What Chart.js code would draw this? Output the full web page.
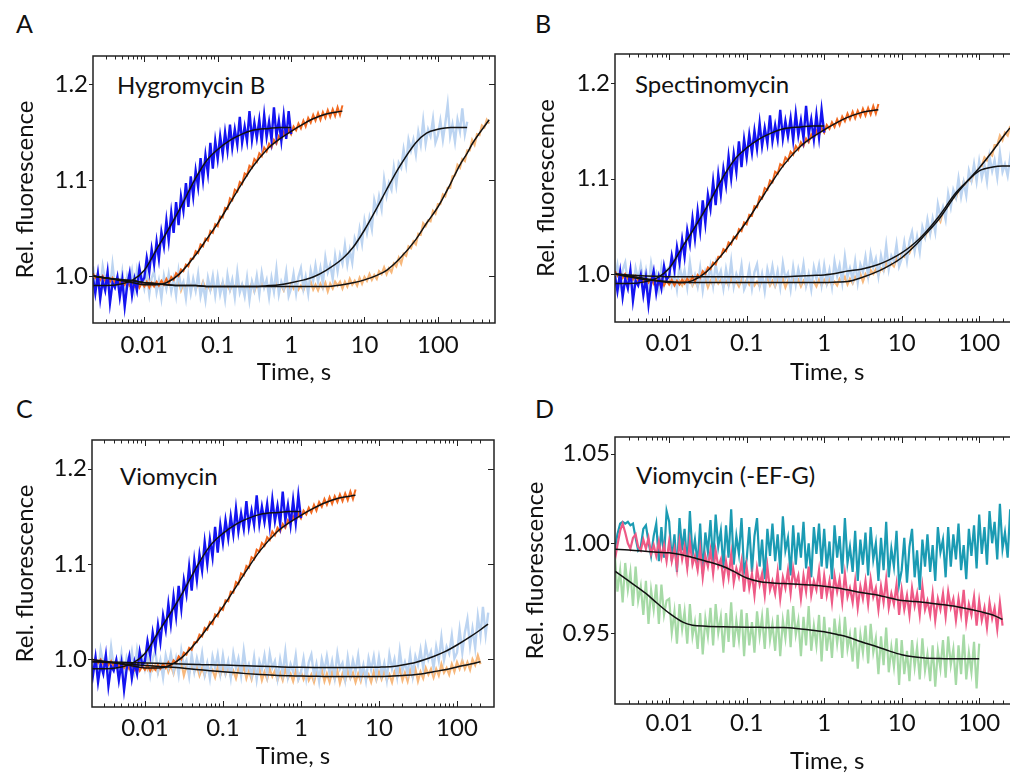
<!DOCTYPE html>
<html>
<head>
<meta charset="utf-8">
<script src="https://cdn.jsdelivr.net/npm/chart.js@4.4.1/dist/chart.umd.min.js"></script>
<style>
  html, body { margin: 0; padding: 0; overflow: hidden; background: #fff; }
  body { position: relative; width: 1010px; height: 776px; font-family: Lato, "Open Sans", sans-serif; color: #111; }
  canvas { position: absolute; }
  .tag { position: absolute; font-size: 24px; line-height: 1; white-space: nowrap; }
  .letter { font-size: 25px; }
</style>
</head>
<body>
<div class="tag letter" style="left:16px;top:11px">A</div>
<div class="tag letter" style="left:535px;top:11px">B</div>
<div class="tag letter" style="left:16px;top:396px">C</div>
<div class="tag letter" style="left:535px;top:396px">D</div>
<div class="tag" style="left:117px;top:73px">Hygromycin B</div>
<div class="tag" style="left:635px;top:72px">Spectinomycin</div>
<div class="tag" style="left:120px;top:464px">Viomycin</div>
<div class="tag" style="left:636px;top:463px">Viomycin (-EF-G)</div>

<canvas id="chartA" width="510" height="390" style="left:0;top:0"></canvas>
<canvas id="chartB" width="545" height="390" style="left:510px;top:0"></canvas>
<canvas id="chartC" width="510" height="386" style="left:0;top:390px"></canvas>
<canvas id="chartD" width="545" height="386" style="left:510px;top:390px"></canvas>

<script>
// Sampling times of the recorded traces (s)
const tGrid = [
  0.002,0.00215,0.00233,0.00251,0.00271,0.00293,0.00316,0.00341,0.00369,0.00398,0.0043,0.00464,0.00501,0.00541,0.00584,0.00631,0.00681,0.00736,0.00794,0.00858,0.00926,
  0.01,0.0108,0.0117,0.0126,0.0136,0.0147,0.0158,0.0171,0.0185,0.02,0.0215,0.0233,0.0251,0.0271,0.0293,0.0316,0.0341,0.0369,0.0398,0.043,0.0464,0.0501,0.0541,0.0584,0.0631,0.0681,0.0736,0.0794,0.0858,0.0926,
  0.1,0.108,0.117,0.126,0.136,0.147,0.158,0.171,0.185,0.2,0.215,0.233,0.251,0.271,0.293,0.316,0.341,0.369,0.398,0.43,0.464,0.501,0.541,0.584,0.631,0.681,0.736,0.794,0.858,0.926,
  1,1.08,1.17,1.26,1.36,1.47,1.58,1.71,1.85,2,2.15,2.33,2.51,2.71,2.93,3.16,3.41,3.69,3.98,4.3,4.64,5.01,5.41,5.84,6.31,6.81,7.36,7.94,8.58,9.26,
  10,10.8,11.7,12.6,13.6,14.7,15.8,17.1,18.5,20,21.5,23.3,25.1,27.1,29.3,31.6,34.1,36.9,39.8,43,46.4,50.1,54.1,58.4,63.1,68.1,73.6,79.4,85.8,92.6,
  100,108,117,126,136,147,158,171,185,200,215,233,251,271,293,316,341,369,398,430,464,501,541,584
];

// Times of the fitted curves (s)
const fitT = [0.002,0.003,0.005,0.007,0.01,0.015,0.02,0.03,0.05,0.07,0.1,0.15,0.2,0.3,0.5,0.7,1,1.5,2,3,5,7,10,15,20,30,50,70,100,150,200,250,300,500];

// Axis ticks
const xTickVals = [0.01, 0.1, 1, 10, 100];
const xTickLabels = ['0.01', '0.1', '1', '10', '100'];
const yTicksABC = [1.0, 1.1, 1.2];
const yLabelsABC = ['1.0', '1.1', '1.2'];
const yTicksD = [0.95, 1.0, 1.05];
const yLabelsD = ['0.95', '1.00', '1.05'];

// Traces without antibiotic (same in A, B, C)
const darkBlue = [
  0.998,0.982,1.002,0.976,0.995,0.985,1.004,0.972,0.993,0.988,0.999,0.978,0.996,0.968,0.990,1.003,0.980,0.997,0.985,1.008,0.994,
  0.998,1.019,1.004,1.028,1.012,1.036,1.018,1.046,1.031,1.058,1.037,1.066,1.045,1.077,1.053,1.083,1.068,1.097,1.072,1.104,1.083,1.110,1.093,1.123,1.100,1.126,1.107,1.139,1.112,1.141,
  1.122,1.146,1.127,1.150,1.131,1.158,1.134,1.153,1.137,1.166,1.139,1.156,1.141,1.172,1.142,1.160,1.144,1.163,1.140,1.168,1.145,1.161,1.142,1.176,1.146,1.162,1.141,1.167,1.143,1.172,1.148
];
const darkOrange = [
  1.003,0.998,1.001,0.996,1.000,0.995,0.999,0.994,0.998,0.993,0.997,0.992,0.996,0.991,0.995,0.990,0.994,0.989,0.994,0.988,0.993,
  0.989,0.994,0.988,0.993,0.989,0.994,0.990,0.995,0.991,0.997,0.992,0.999,0.996,1.003,1.000,1.007,1.005,1.012,1.010,1.018,1.018,
  1.026,1.024,1.033,1.031,1.039,1.037,1.047,1.045,1.054,1.052,1.062,1.061,1.071,1.070,1.081,1.079,1.090,1.088,1.098,1.096,1.107,1.105,1.115,1.113,1.122,1.119,1.128,1.125,1.134,1.130,1.138,1.134,1.142,1.138,1.146,1.142,1.150,1.145,1.153,1.148,
  1.156,1.152,1.159,1.154,1.162,1.156,1.165,1.160,1.168,1.162,1.170,1.163,1.171,1.165,1.173,1.166,1.174,1.167,1.176,1.168,1.178
];
const blueFit = [0.990,0.990,0.992,0.996,1.006,1.029,1.045,1.069,1.102,1.120,1.132,1.142,1.147,1.152,1.154,1.155,1.155];
const orangeFit = [1.000,0.998,0.995,0.993,0.991,0.991,0.993,1.002,1.022,1.038,1.055,1.077,1.093,1.114,1.134,1.143,1.151,1.159,1.164,1.169,1.172];

// A: Hygromycin B
const lightBlueA = [
  1.010,0.992,1.003,0.986,1.010,0.995,1.004,0.986,1.012,0.990,0.998,0.986,1.004,0.981,1.000,0.990,1.005,0.985,1.006,0.991,0.999,
  0.987,1.002,0.981,0.998,1.005,0.983,0.995,0.977,1.000,0.987,1.002,0.984,0.997,0.980,1.005,0.988,0.994,0.977,1.000,0.982,0.997,0.985,1.002,0.979,0.991,0.975,0.998,0.986,1.000,0.980,
  0.999,0.981,0.993,0.976,1.001,0.986,0.996,0.978,1.004,0.983,0.991,0.979,0.998,0.975,0.994,0.985,1.000,0.981,1.003,0.988,0.996,0.978,0.998,0.984,1.007,0.981,0.994,0.987,1.004,0.979,
  0.987,1.002,0.982,0.999,1.008,0.987,0.999,0.982,1.006,0.995,1.011,0.994,1.008,0.992,1.019,1.004,1.012,0.997,1.021,1.005,1.022,1.013,1.032,1.012,1.027,1.014,1.039,1.031,1.049,1.034,
  1.058,1.045,1.061,1.049,1.079,1.068,1.083,1.070,1.101,1.084,1.097,1.090,1.113,1.095,1.118,1.113,1.132,1.116,1.142,1.131,1.142,1.127,1.150,1.137,1.162,1.138,1.153,1.146,1.164,1.139,
  1.147,1.162,1.142,1.159,1.179,1.146,1.158,1.140,1.163,1.151,1.175,1.148,1.161
];
const lightOrangeA = [
  1.003,0.998,1.003,0.996,0.999,0.994,1.000,0.996,1.002,0.993,0.998,0.992,0.998,0.993,0.999,0.989,0.996,0.991,0.997,0.992,0.996,
  0.996,0.991,0.997,0.990,0.993,0.988,0.995,0.991,0.997,0.988,0.993,0.987,0.994,0.989,0.995,0.985,0.992,0.987,0.994,0.989,0.993,0.986,0.992,0.986,0.994,0.987,0.990,0.985,0.992,0.986,
  0.992,0.987,0.993,0.986,0.990,0.985,0.992,0.988,0.994,0.986,0.991,0.985,0.992,0.987,0.993,0.984,0.991,0.986,0.993,0.988,0.992,0.985,0.991,0.986,0.994,0.987,0.990,0.985,0.992,0.986,
  0.992,0.987,0.993,0.986,0.990,0.985,0.992,0.988,0.994,0.986,0.991,0.985,0.992,0.987,0.993,
  0.984,0.992,0.987,0.994,0.990,0.994,0.987,0.994,0.989,0.997,0.991,0.995,0.990,0.998,0.992,
  0.999,0.995,1.002,0.996,1.001,0.997,1.005,1.002,1.009,1.002,1.008,1.004,1.013,1.010,1.019,1.013,1.023,1.021,1.031,1.029,1.036,1.033,1.044,1.043,1.055,1.052,1.058,1.057,1.068,1.065,
  1.075,1.075,1.085,1.083,1.092,1.092,1.104,1.105,1.116,1.113,1.122,1.120,1.131,1.131,1.142,1.137,1.148,1.147,1.157,1.155,1.163,1.159
];
const lightBlueFitA = [1.000,0.998,0.996,0.995,0.993,0.992,0.991,0.990,0.990,0.989,0.989,0.989,0.989,0.989,0.990,0.991,0.993,0.996,0.999,1.006,1.018,1.030,1.048,1.072,1.090,1.114,1.139,1.149,1.153,1.155,1.155,1.155];
const lightOrangeFitA = [1.000,0.998,0.996,0.995,0.993,0.992,0.991,0.990,0.990,0.989,0.989,0.989,0.989,0.989,0.989,0.989,0.989,0.989,0.989,0.989,0.991,0.993,0.996,1.001,1.006,1.018,1.038,1.055,1.072,1.097,1.116,1.128,1.139,1.163];

// B: Spectinomycin
const lightBlueB = [
  0.994,1.009,0.988,1.004,1.012,0.990,1.002,0.984,1.006,0.994,1.009,0.991,1.004,0.987,1.011,0.995,1.001,0.984,1.007,0.989,1.004,
  1.007,0.989,1.001,0.984,1.009,0.994,1.004,0.986,1.012,0.991,0.999,0.987,1.006,0.983,1.002,0.993,1.008,0.988,1.010,0.995,1.003,0.985,1.005,0.990,1.013,0.987,1.000,0.992,1.009,0.984,
  0.991,1.006,0.985,1.002,1.010,0.988,1.000,0.982,1.005,0.993,1.008,0.990,1.003,0.986,1.011,0.995,1.001,0.984,1.007,0.989,
  1.005,0.993,1.010,0.988,1.000,0.984,1.007,0.995,1.009,0.989,
  1.009,0.991,1.004,0.987,1.013,0.998,1.009,0.991,1.018,0.997,1.006,0.994,1.013,0.991,1.010,1.002,1.018,0.998,1.021,1.007,1.016,0.998,1.019,1.006,1.030,1.005,1.019,1.013,1.031,1.008,
  1.016,1.033,1.014,1.034,1.044,1.024,1.039,1.023,1.049,1.039,1.057,1.042,1.058,1.044,1.073,1.060,1.070,1.057,1.084,1.070,1.088,1.080,1.100,1.081,1.096,1.082,1.108,1.098,1.115,1.097,
  1.118,1.101,1.114,1.097,1.123,1.108,1.119,1.101,1.127,1.107,1.115,1.103,1.122,1.099,1.118,1.109,1.124,1.104,1.126,1.111,1.119,1.101,1.121,1.106
];
const lightOrangeB = [
  1.003,0.998,1.003,0.996,0.999,0.994,1.001,0.996,1.002,0.994,0.998,0.992,0.999,0.993,0.999,0.990,0.996,0.991,0.998,0.992,0.996,
  0.996,0.991,0.996,0.989,0.993,0.988,0.995,0.990,0.996,0.988,0.993,0.987,0.994,0.989,0.995,0.986,0.993,0.988,0.995,0.990,0.994,0.987,0.993,0.988,0.996,0.989,0.992,0.987,0.994,0.988,
  0.994,0.989,0.995,0.988,0.992,0.987,0.994,0.990,0.996,0.988,0.993,0.987,0.994,0.989,0.995,0.986,0.993,0.988,0.995,0.990,0.994,0.987,0.993,0.988,0.996,0.989,0.992,0.987,0.994,0.988,
  0.994,0.989,0.995,0.988,0.992,0.988,0.995,0.991,0.997,0.989,0.995,0.990,0.997,0.993,1.000,0.992,1.000,0.996,1.004,1.000,1.005,0.999,1.006,1.003,1.012,1.007,1.011,1.008,1.016,1.012,
  1.020,1.018,1.026,1.022,1.029,1.026,1.036,1.035,1.043,1.038,1.046,1.043,1.053,1.051,1.060,1.055,1.066,1.065,1.076,1.075,1.082,1.079,1.088,1.086,1.097,1.093,1.099,1.097,1.107,1.105,
  1.114,1.113,1.122,1.119,1.126,1.124,1.135,1.135,1.145,1.140,1.148,1.145,1.155
];
const lightBlueFitB = [1.000,0.999,0.998,0.9975,0.997,0.997,0.997,0.997,0.997,0.997,0.997,0.997,0.997,0.9972,0.998,0.9985,0.999,1.001,1.003,1.005,1.010,1.015,1.022,1.033,1.043,1.060,1.085,1.097,1.108,1.112,1.113,1.113,1.113,1.113];
const lightOrangeFitB = [1.000,0.997,0.994,0.993,0.992,0.991,0.991,0.991,0.991,0.991,0.991,0.991,0.991,0.991,0.991,0.991,0.991,0.9915,0.992,0.996,1.003,1.009,1.017,1.030,1.041,1.057,1.083,1.097,1.111,1.129,1.143,1.153];

// C: Viomycin
const lightBlueC = [
  1.008,0.990,1.002,0.985,1.010,0.995,1.005,0.987,1.013,0.992,1.000,
  0.987,1.006,0.983,1.002,0.993,1.008,0.988,1.010,0.995,1.003,
  0.990,1.005,0.984,1.001,1.009,0.987,0.999,0.981,1.004,0.992,
  1.006,0.988,1.001,0.984,1.009,0.993,0.999,0.982,1.005,0.987,
  1.001,0.989,1.006,0.984,0.996,0.980,1.003,0.991,1.005,0.985,
  1.004,0.986,0.998,0.981,1.006,0.991,1.001,0.983,1.009,0.988,
  0.995,0.983,1.002,0.979,0.998,0.989,1.004,0.984,1.006,0.991,
  0.998,0.980,1.000,0.985,1.008,0.982,0.995,0.987,1.004,0.979,
  0.986,1.001,0.980,0.997,1.005,0.983,0.995,0.977,1.000,0.988,1.003,0.985,0.998,0.981,1.006,0.990,0.996,0.979,1.002,0.984,0.999,0.987,1.004,0.982,0.994,0.978,1.001,0.989,1.003,0.983,
  1.002,0.984,0.996,0.979,1.005,0.990,1.000,0.982,1.009,0.988,0.997,0.985,1.005,0.983,1.003,0.994,1.010,0.991,1.014,1.000,1.008,0.991,1.013,0.999,1.023,0.999,1.013,1.006,1.025,1.001,
  1.007,1.031,1.007,1.028,1.042,1.014,1.032,1.012,1.045,1.025,1.055,1.026,1.049
];
const lightOrangeC = [
  1.001,0.996,1.001,0.994,0.998,0.993,0.999,0.995,1.001,0.993,0.998,0.991,0.998,0.993,0.999,0.990,0.996,0.991,0.998,0.993,0.997,
  0.998,0.990,0.999,0.989,0.994,0.986,0.996,0.990,0.999,0.987,0.994,0.985,0.996,0.988,0.997,0.983,0.993,0.985,0.995,0.987,0.993,0.983,0.991,0.983,0.995,0.985,0.989,0.981,0.992,0.983,
  0.992,0.984,0.993,0.982,0.988,0.980,0.990,0.984,0.993,0.980,0.988,0.979,0.990,0.982,0.991,0.978,0.987,0.979,0.990,0.982,0.988,0.978,0.986,0.978,0.990,0.980,0.985,0.977,0.988,0.979,
  0.987,0.979,0.988,0.978,0.984,0.976,0.986,0.980,0.989,0.977,0.985,0.976,0.987,0.979,0.988,0.975,0.985,0.977,0.988,0.980,0.986,0.976,0.985,0.977,0.989,0.979,0.984,0.976,0.987,0.978,
  0.987,0.979,0.988,0.978,0.984,0.976,0.987,0.981,0.990,0.978,0.986,0.977,0.989,0.981,0.990,0.977,0.987,0.980,0.991,0.984,0.990,0.981,0.990,0.983,0.995,0.986,0.991,0.984,0.995,0.987,
  0.997,0.990,0.999,0.990,0.997,0.989,1.000,0.994,1.004,0.995
];
const lightBlueFitC = [0.9975,0.9972,0.9968,0.9965,0.9962,0.9958,0.9955,0.995,0.9945,0.9942,0.994,0.9935,0.9932,0.9928,0.9922,0.9918,0.9916,0.9915,0.9915,0.9915,0.9915,0.9916,0.9918,0.9925,0.994,0.997,1.003,1.008,1.015,1.024,1.031,1.037];
const lightOrangeFitC = [0.9975,0.997,0.9955,0.9945,0.9935,0.9925,0.992,0.991,0.989,0.988,0.987,0.9858,0.985,0.984,0.983,0.9827,0.9825,0.9822,0.982,0.982,0.982,0.982,0.982,0.9825,0.983,0.984,0.987,0.989,0.992,0.995,0.9975];

// D: Viomycin (-EF-G)
const tealD = [
  0.997,1.005,1.011,1.012,1.011,1.012,1.010,1.011,1.003,0.996,0.998,1.008,1.010,1.001,0.993,1.004,1.011,0.990,1.009,0.992,1.018,
  1.012,0.990,1.005,0.984,1.014,0.996,1.008,0.987,1.018,0.993,1.002,0.988,1.011,0.983,1.006,0.995,1.013,0.989,1.016,0.998,1.007,0.986,1.010,0.992,1.019,0.988,1.004,0.994,1.014,0.984,
  0.991,1.009,0.984,1.004,1.014,0.987,1.002,0.980,1.008,0.993,1.011,0.990,1.005,0.985,1.015,0.996,1.003,0.982,1.010,0.988,1.006,0.992,1.012,0.986,1.000,0.981,1.009,0.994,1.011,0.987,
  1.008,0.986,1.001,0.980,1.010,0.992,1.004,0.983,1.014,0.989,0.998,0.984,1.007,0.979,1.002,
  0.988,1.006,0.982,1.009,0.991,1.000,0.979,1.003,0.985,1.012,0.981,0.997,0.987,1.007,0.977,
  0.985,1.003,0.978,0.998,1.008,0.981,0.996,0.974,1.002,0.987,1.005,0.984,0.999,0.979,1.009,
  0.995,1.002,0.981,1.009,0.987,1.005,0.991,1.011,0.985,0.999,0.980,1.008,0.993,1.010,0.986,
  1.016,0.994,1.009,0.988,1.018,1.000,1.012,0.991,1.022,0.997,1.006,0.992,
  1.019,0.991,1.014,1.003,1.021,0.997,1.024,1.006,1.015,0.994,1.018,1.000
];
const pinkD = [
  0.991,0.999,1.007,1.011,1.006,1.000,0.997,1.003,1.005,0.998,0.996,1.002,0.997,1.003,0.994,0.999,0.993,1.001,0.992,0.999,0.990,
  1.001,0.990,0.997,0.986,1.001,0.991,0.998,0.986,1.001,0.988,0.993,0.985,0.997,0.981,0.993,0.987,0.996,0.983,0.996,0.987,0.991,0.979,0.990,0.981,0.994,0.978,0.986,0.981,0.990,0.973,
  0.987,0.975,0.983,0.971,0.986,0.977,0.983,0.971,0.987,0.974,0.979,0.972,0.984,0.969,0.981,0.975,0.985,0.972,0.986,0.977,0.982,0.969,0.982,0.973,0.987,0.971,0.979,0.974,0.985,0.969,
  0.982,0.971,0.979,0.967,0.982,0.973,0.980,0.967,0.983,0.970,0.975,0.967,0.979,0.964,0.976,0.969,0.979,0.966,0.980,0.970,0.975,0.963,0.976,0.967,0.980,0.964,0.972,0.966,0.977,0.960,
  0.974,0.963,0.971,0.960,0.975,0.965,0.972,0.960,0.976,0.963,0.968,0.960,0.972,0.957,0.969,0.963,0.972,0.959,0.973,0.964,0.969,0.957,0.969,0.960,0.974,0.956,0.966,0.960,0.970,0.954,
  0.968,0.957,0.964,0.953,0.967,0.958,0.964,0.952,0.967,0.954
];
const greenD = [
  0.992,0.973,0.985,0.967,0.989,0.974,0.984,0.965,0.987,0.968,0.976,0.960,0.979,0.955,0.974,0.963,0.977,0.955,0.977,0.960,0.968,
  0.969,0.950,0.962,0.944,0.966,0.952,0.962,0.944,0.966,0.948,0.956,0.941,0.961,0.938,0.958,0.948,0.964,0.943,0.966,0.950,0.959,0.939,0.961,0.945,0.967,0.942,0.957,0.946,0.963,0.937,
  0.961,0.943,0.956,0.939,0.962,0.948,0.959,0.941,0.964,0.946,0.955,0.940,0.960,0.937,0.957,0.947,0.963,0.942,0.965,0.949,0.957,0.937,0.959,0.943,0.965,0.940,0.954,0.943,0.960,0.934,
  0.959,0.940,0.953,0.936,0.958,0.944,0.955,0.936,0.959,0.941,0.949,0.934,0.953,0.930,0.949,0.939,0.954,0.933,0.955,0.939,0.947,0.927,0.948,0.932,0.953,0.928,0.942,0.931,0.947,0.921,
  0.946,0.927,0.940,0.923,0.946,0.931,0.942,0.924,0.947,0.929,0.938,0.923,0.943,0.920,0.940,0.930,0.946,0.925,0.948,0.932,0.941,0.921,0.943,0.927,0.949,0.924,0.939,0.928,0.945,0.919,0.944
];
const pinkFitD = [0.9966,0.9962,0.9955,0.995,0.9947,0.9935,0.992,0.990,0.987,0.984,0.9806,0.9785,0.978,0.9775,0.977,0.9767,0.976,0.975,0.974,0.9725,0.971,0.9695,0.968,0.9675,0.967,0.966,0.9647,0.9635,0.962,0.960,0.9575];
const greenFitD = [0.9844,0.979,0.972,0.9665,0.961,0.956,0.9543,0.9537,0.9534,0.9533,0.9532,0.9531,0.953,0.953,0.9522,0.9515,0.9506,0.949,0.9477,0.945,0.942,0.9398,0.9378,0.9365,0.936,0.9357,0.9355,0.9355,0.9355];

// Colours
const C_BLUE = '#1414f0';
const C_ORANGE = '#f26a21';
const C_LBLUE = '#bcd4f1';
const C_LORANGE = '#f7b87c';
const C_TEAL = '#1b9bb3';
const C_PINK = '#ee5a86';
const C_GREEN = '#a6daa6';

const FONT = { family: 'Lato, "Open Sans", sans-serif', size: 24 };

const pts = (xs, ys) => ys.map((y, i) => ({ x: xs[i], y: y }));

function trace(ys, color, order, width) {
  return { data: pts(tGrid, ys), borderColor: color, borderWidth: width, pointRadius: 0, tension: 0, order: order };
}

function fit(ys) {
  return { data: pts(fitT, ys), borderColor: '#111', borderWidth: 1.5, pointRadius: 0, cubicInterpolationMode: 'monotone', order: 0 };
}

function isDecade(v) {
  const e = Math.log10(v);
  return Math.abs(e - Math.round(e)) < 1e-6;
}

// Box frame with inward ticks on top/bottom/right, outward on left
const frame = {
  id: 'frame',
  afterDraw(chart) {
    const { ctx, chartArea: a, scales: { x, y } } = chart;
    ctx.save();
    ctx.strokeStyle = '#222';
    ctx.lineWidth = 1;
    ctx.beginPath();
    x.ticks.forEach(t => {
      const px = Math.round(x.getPixelForValue(t.value)) + 0.5;
      if (px <= a.left + 1 || px >= a.right - 1) return;
      const len = isDecade(t.value) ? 6 : 3.5;
      ctx.moveTo(px, a.bottom);
      ctx.lineTo(px, a.bottom - len);
      ctx.moveTo(px, a.top);
      ctx.lineTo(px, a.top + len);
    });
    y.ticks.forEach(t => {
      const py = Math.round(y.getPixelForValue(t.value)) + 0.5;
      ctx.moveTo(a.left - 4, py);
      ctx.lineTo(a.left, py);
      ctx.moveTo(a.right, py);
      ctx.lineTo(a.right - 6, py);
    });
    ctx.stroke();
    ctx.lineWidth = 1.5;
    ctx.strokeRect(a.left, a.top, a.right - a.left, a.bottom - a.top);
    ctx.restore();
  }
};

function makePanel(id, datasets, cfg) {
  return new Chart(document.getElementById(id), {
    type: 'line',
    data: { datasets: datasets },
    options: {
      responsive: false,
      animation: false,
      events: [],
      layout: { padding: cfg.pad },
      plugins: { legend: { display: false }, tooltip: { enabled: false } },
      scales: {
        x: {
          type: 'logarithmic',
          min: cfg.xMin,
          max: cfg.xMax,
          grid: { display: false, drawTicks: false },
          border: { display: false },
          afterFit: s => { s.height = cfg.xh; },
          ticks: {
            autoSkip: false,
            maxRotation: 0,
            padding: cfg.xPad,
            color: '#111',
            font: FONT,
            callback: v => {
              const i = xTickVals.findIndex(t => Math.abs(Math.log10(t / v)) < 1e-6);
              return i >= 0 ? xTickLabels[i] : '';
            }
          },
          title: { display: true, text: 'Time, s', color: '#111', font: FONT, padding: { top: 0, bottom: cfg.xTitlePad } }
        },
        y: {
          min: cfg.yMin,
          max: cfg.yMax,
          grid: { display: false, drawTicks: false },
          border: { display: false },
          afterBuildTicks: s => { s.ticks = cfg.yTicks.map(v => ({ value: v })); },
          afterFit: s => { s.width = cfg.yw; },
          ticks: {
            padding: 5,
            color: '#111',
            font: FONT,
            callback: (v, i) => cfg.yLabels[i]
          },
          title: { display: true, text: 'Rel. fluorescence', color: '#111', font: FONT, padding: { top: cfg.yTitlePad, bottom: 0 } }
        }
      }
    },
    plugins: [frame]
  });
}

// Panel A
makePanel('chartA', [
  fit(blueFit), fit(orangeFit), fit(lightBlueFitA), fit(lightOrangeFitA),
  trace(darkBlue, C_BLUE, 1, 2.4),
  trace(darkOrange, C_ORANGE, 2, 2),
  trace(lightBlueA, C_LBLUE, 3, 2.4),
  trace(lightOrangeA, C_LORANGE, 4, 2.2)
], {
  pad: { top: 56, right: 15, bottom: 0, left: 0 }, yw: 93, xh: 67,
  xMin: 0.002, xMax: 600, yMin: 0.951, yMax: 1.2295,
  yTicks: yTicksABC, yLabels: yLabelsABC, xPad: 8, xTitlePad: 3, yTitlePad: 11
});

// Panel B
makePanel('chartB', [
  fit(blueFit), fit(orangeFit), fit(lightBlueFitB), fit(lightOrangeFitB),
  trace(darkBlue, C_BLUE, 1, 2.4),
  trace(darkOrange, C_ORANGE, 2, 2),
  trace(lightBlueB, C_LBLUE, 3, 2.4),
  trace(lightOrangeB, C_LORANGE, 4, 2.2)
], {
  pad: { top: 54, right: 15.5, bottom: 0, left: 0 }, yw: 105, xh: 68,
  xMin: 0.002, xMax: 600, yMin: 0.9497, yMax: 1.2304,
  yTicks: yTicksABC, yLabels: yLabelsABC, xPad: 7, xTitlePad: 3, yTitlePad: 22
});

// Panel C
makePanel('chartC', [
  fit(blueFit), fit(orangeFit), fit(lightBlueFitC), fit(lightOrangeFitC),
  trace(darkBlue, C_BLUE, 1, 2.4),
  trace(darkOrange, C_ORANGE, 2, 2),
  trace(lightBlueC, C_LBLUE, 3, 2.4),
  trace(lightOrangeC, C_LORANGE, 4, 2.2)
], {
  pad: { top: 50, right: 16, bottom: 0, left: 0 }, yw: 92, xh: 69,
  xMin: 0.0021, xMax: 298, yMin: 0.950, yMax: 1.230,
  yTicks: yTicksABC, yLabels: yLabelsABC, xPad: 7, xTitlePad: 5, yTitlePad: 11
});

// Panel D
makePanel('chartD', [
  fit(pinkFitD), fit(greenFitD),
  trace(greenD, C_GREEN, 1, 2.2),
  trace(pinkD, C_PINK, 2, 2.2),
  trace(tealD, C_TEAL, 3, 2.2)
], {
  pad: { top: 47, right: 15.5, bottom: 0, left: 0 }, yw: 105, xh: 72,
  xMin: 0.002, xMax: 600, yMin: 0.9103, yMax: 1.0593,
  yTicks: yTicksD, yLabels: yLabelsD, xPad: 5, xTitlePad: 0, yTitlePad: 11
});
</script>
</body>
</html>
